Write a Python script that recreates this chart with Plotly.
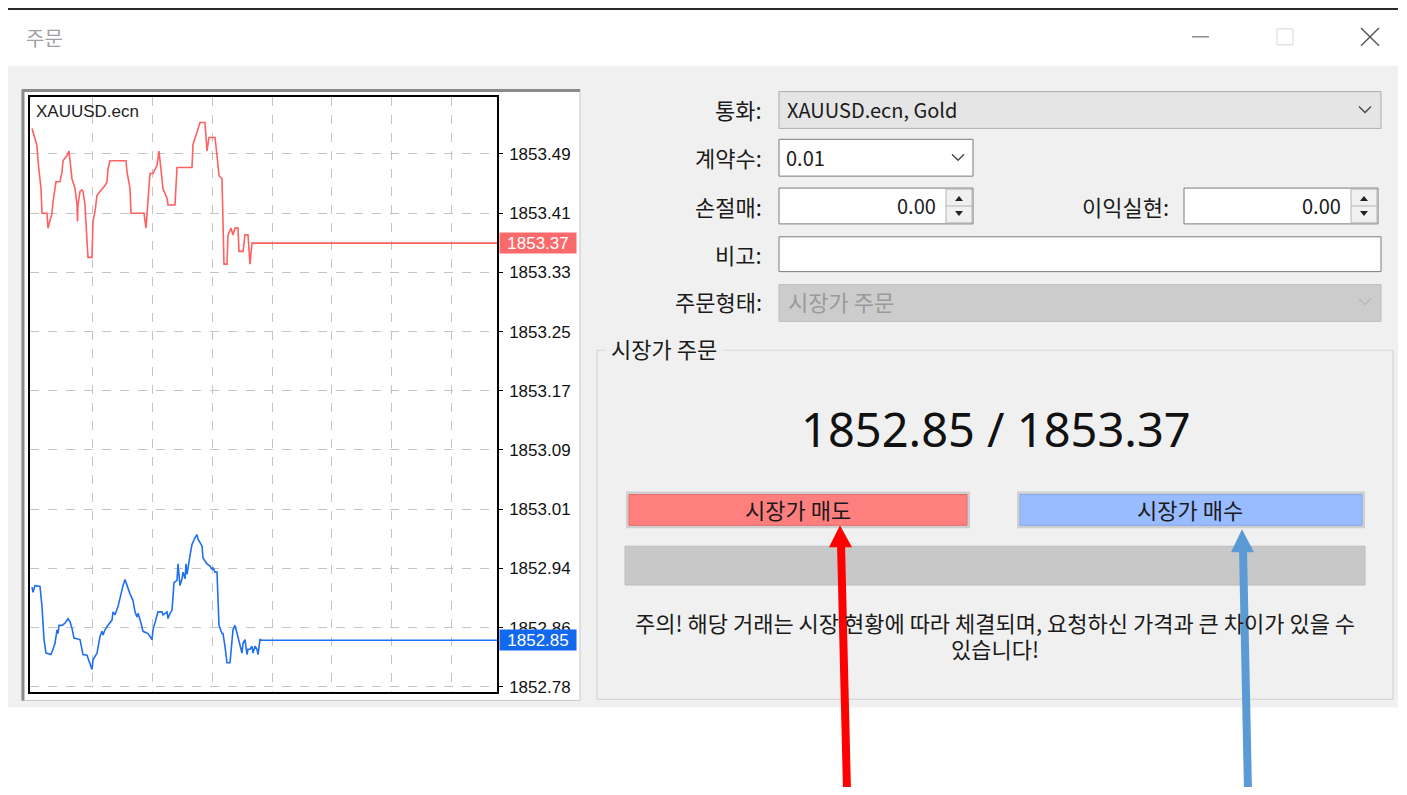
import plotly.graph_objects as go

# The page adds an 8px body margin on every side, so the figure is drawn smaller and offset.
OFF = 8
W, H = 1407 - OFF, 795 - 2 * OFF

# ---------------- data ----------------
symbol = "XAUUSD.ecn"
bid_text = "1852.85"
ask_text = "1853.37"

ask_x = [2, 5, 7, 8, 10, 11, 12, 17, 18, 22, 23, 25, 26, 30, 32, 33, 37, 39, 40, 42,
         45, 47, 47.5, 48, 50, 52, 53, 55, 57, 58, 62, 63, 65, 67, 70, 75, 77, 78, 80, 96,
         97, 100, 101, 114, 116, 117, 119, 120, 123, 127, 129, 131, 133, 137, 138, 145, 146, 147, 162, 163,
         167, 170, 175, 177, 179, 185, 187, 189, 192, 193, 194, 197, 198, 201, 203, 205, 208, 209, 213, 215,
         218, 220, 222, 467]
ask_price = [1853.524, 1853.510, 1853.501, 1853.481, 1853.461, 1853.444, 1853.411, 1853.411, 1853.391, 1853.411,
             1853.426, 1853.444, 1853.453, 1853.453, 1853.466, 1853.481, 1853.488, 1853.494, 1853.481, 1853.457,
             1853.444, 1853.422, 1853.400, 1853.422, 1853.440, 1853.442, 1853.440, 1853.422, 1853.374, 1853.352,
             1853.352, 1853.400, 1853.413, 1853.435, 1853.440, 1853.448, 1853.453, 1853.470, 1853.481, 1853.481,
             1853.466, 1853.444, 1853.411, 1853.411, 1853.391, 1853.409, 1853.444, 1853.464, 1853.464, 1853.475,
             1853.494, 1853.470, 1853.444, 1853.431, 1853.422, 1853.422, 1853.444, 1853.472, 1853.472, 1853.503,
             1853.519, 1853.532, 1853.532, 1853.494, 1853.512, 1853.512, 1853.488, 1853.461, 1853.457, 1853.396,
             1853.343, 1853.343, 1853.382, 1853.391, 1853.382, 1853.391, 1853.391, 1853.360, 1853.360, 1853.382,
             1853.382, 1853.343, 1853.371, 1853.371]

bid_x = [2, 3, 5, 10, 12, 13, 14, 16, 21, 23, 25, 27, 28, 29, 32, 35, 38, 40, 42, 44,
         48, 50, 52, 53, 57, 60, 62, 63, 67, 70, 72, 73, 75, 78, 82, 83, 85, 88, 90, 93,
         95, 97, 100, 103, 105, 107, 108, 111, 113, 118, 122, 123, 125, 127, 128, 132, 133, 137, 138, 140,
         142, 143, 144, 147, 148, 150, 152, 153, 155, 156, 157, 160, 162, 165, 167, 168, 172, 173, 177, 180,
         182, 183, 185, 187, 188, 189, 192, 193, 195, 197, 200, 202, 203, 205, 207, 208, 210, 212, 213, 215,
         217, 218, 220, 222, 223, 225, 227, 228, 230, 232, 467]
bid_price = [1852.912, 1852.905, 1852.914, 1852.913, 1852.886, 1852.855, 1852.842, 1852.824, 1852.822, 1852.829,
             1852.837, 1852.855, 1852.850, 1852.861, 1852.861, 1852.864, 1852.870, 1852.866, 1852.857, 1852.844,
             1852.842, 1852.842, 1852.829, 1852.822, 1852.821, 1852.811, 1852.802, 1852.815, 1852.824, 1852.846,
             1852.853, 1852.848, 1852.855, 1852.861, 1852.868, 1852.879, 1852.875, 1852.886, 1852.899, 1852.914,
             1852.922, 1852.914, 1852.903, 1852.894, 1852.879, 1852.872, 1852.877, 1852.864, 1852.853, 1852.850,
             1852.842, 1852.855, 1852.864, 1852.872, 1852.879, 1852.879, 1852.875, 1852.879, 1852.870, 1852.877,
             1852.881, 1852.899, 1852.918, 1852.921, 1852.943, 1852.914, 1852.923, 1852.932, 1852.923, 1852.943,
             1852.929, 1852.954, 1852.969, 1852.978, 1852.982, 1852.976, 1852.967, 1852.951, 1852.943, 1852.940,
             1852.936, 1852.938, 1852.932, 1852.932, 1852.903, 1852.861, 1852.850, 1852.850, 1852.833, 1852.811,
             1852.811, 1852.842, 1852.855, 1852.861, 1852.850, 1852.844, 1852.837, 1852.824, 1852.837, 1852.842,
             1852.822, 1852.829, 1852.829, 1852.833, 1852.824, 1852.833, 1852.829, 1852.822, 1852.842, 1852.841,
             1852.841]

price_tick_vals = [1853.490, 1853.411, 1853.332, 1853.253, 1853.174, 1853.095, 1853.016, 1852.937, 1852.858, 1852.779]
price_tick_text = ["1853.49", "1853.41", "1853.33", "1853.25", "1853.17", "1853.09", "1853.01", "1852.94", "1852.86", "1852.78"]
time_grid_vals = [62, 122, 182, 242, 301, 361, 421]

form_labels = ["통화:", "계약수:", "손절매:", "비고:", "주문형태:"]
symbol_text = "XAUUSD.ecn, Gold"
volume_text = "0.01"
sl_text = "0.00"
tp_label = "이익실현:"
tp_text = "0.00"
order_type_text = "시장가 주문"
group_title = "시장가 주문"
sell_label = "시장가 매도"
buy_label = "시장가 매수"
warning_lines = ["주의! 해당 거래는 시장 현황에 따라 체결되며, 요청하신 가격과 큰 차이가 있을 수", "있습니다!"]
window_title = "주문"

KR = "Noto Sans CJK KR"
LAT = "Liberation Sans"
KS = 22  # Korean UI font size


def X(px):
    return (px - OFF) / W


def Y(py):
    return 1 - (py - OFF) / H


shapes = []
annotations = []


def rect(x0, y0, x1, y1, fill, line="rgba(0,0,0,0)", lw=1, layer="below"):
    shapes.append(dict(type="rect", xref="paper", yref="paper", x0=X(x0), x1=X(x1), y0=Y(y1), y1=Y(y0),
                       fillcolor=fill, line=dict(color=line, width=lw), layer=layer))


def seg(x0, y0, x1, y1, color, lw=1, layer="above"):
    shapes.append(dict(type="line", xref="paper", yref="paper", x0=X(x0), x1=X(x1), y0=Y(y0), y1=Y(y1),
                       line=dict(color=color, width=lw), layer=layer))


def poly(pts, fill, layer="above"):
    d = "M " + " L ".join(f"{X(a):.5f},{Y(b):.5f}" for a, b in pts) + " Z"
    shapes.append(dict(type="path", xref="paper", yref="paper", path=d, fillcolor=fill,
                       line=dict(color=fill, width=0), layer=layer))


def chevron(cx, cy, color):
    d = f"M {X(cx-6):.5f},{Y(cy-3):.5f} L {X(cx):.5f},{Y(cy+3):.5f} L {X(cx+6):.5f},{Y(cy-3):.5f}"
    shapes.append(dict(type="path", xref="paper", yref="paper", path=d, line=dict(color=color, width=1.3),
                       layer="above"))


def text(px, py, s, size=KS, color="#1a1a1a", anchor="left", family=KR, bg=None):
    a = dict(xref="paper", yref="paper", x=X(px), y=Y(py), text=s, showarrow=False, xanchor=anchor,
             yanchor="middle", font=dict(family=family, size=size, color=color), borderpad=0)
    if bg:
        a["bgcolor"] = bg
    annotations.append(a)


# ---------------- window frame ----------------
seg(8, 9, 1398, 9, "#2a2a2a", 2, layer="below")
rect(8, 10, 1398, 66, "#ffffff")
rect(8, 66, 1398, 711, "#f0f0f0")
text(25, 38, window_title, size=20, color="#a0a0a0")
seg(1192, 37, 1209, 37, "#555555", 1)
rect(1277, 29, 1293, 45, "rgba(0,0,0,0)", "#d8d8d8", 1, layer="above")
seg(1361, 28, 1379, 46, "#555555", 1.4)
seg(1361, 46, 1379, 28, "#555555", 1.4)

# chart panel
rect(22, 90, 580, 704, "#ffffff", "#c8c8c8", 1)
seg(22, 91, 580, 91, "#8a8a8a", 3, layer="below")
seg(23, 90, 23, 704, "#8a8a8a", 3, layer="below")

# ---------------- form ----------------
label_y = [110, 158, 207, 255, 303]
for lab, ly in zip(form_labels, label_y):
    text(763, ly, lab, anchor="right")

rect(779, 92, 1381, 129, "#e5e5e5", "#adadad", 1)
text(786, 110, symbol_text, size=20)
chevron(1365, 110, "#444444")

rect(779, 140, 973, 177, "#ffffff", "#7a7a7a", 1)
text(785, 158, volume_text, size=20)
chevron(958, 158, "#444444")


def spinbox(x0, x1, val):
    rect(x0, 189, x1, 225, "#ffffff", "#7a7a7a", 1)
    rect(x1 - 27, 190, x1 - 1, 224, "#f0f0f0", "#b4b4b4", 1, layer="above")
    seg(x1 - 27, 207, x1 - 1, 207, "#b4b4b4", 1)
    cx = x1 - 14
    poly([(cx - 4, 202), (cx + 4, 202), (cx, 197)], "#222222")
    poly([(cx - 4, 212), (cx + 4, 212), (cx, 217)], "#222222")
    text(x1 - 36, 207, val, size=20, anchor="right")


spinbox(779, 973, sl_text)
text(1170, 207, tp_label, anchor="right")
spinbox(1184, 1378, tp_text)

rect(779, 238, 1381, 273, "#ffffff", "#7a7a7a", 1)

rect(779, 286, 1381, 323, "#cccccc", "#bfbfbf", 1)
text(787, 303, order_type_text, color="#9a9a9a")
chevron(1365, 303, "#b8b8b8")

# group box
gb = [(605, 352), (597, 352), (597, 703), (1393, 703), (1393, 352), (724, 352)]
d = "M " + " L ".join(f"{X(a):.5f},{Y(b):.5f}" for a, b in gb)
shapes.append(dict(type="path", xref="paper", yref="paper", path=d, line=dict(color="#d6d6d6", width=1.2),
                   layer="below"))
text(610, 350, group_title)

text(996, 431, f"{bid_text} / {ask_text}", size=47, color="#111111", anchor="center", family="Noto Sans")

# buttons
rect(626, 494, 970, 531, "#cfcfcf")
rect(629, 497, 967, 528, "#ff7f7f", "#e86c6c", 1)
text(798, 512, sell_label, anchor="center")
rect(1017, 494, 1365, 531, "#cfcfcf")
rect(1020, 497, 1362, 528, "#99bbff", "#86a8ee", 1)
text(1190, 512, buy_label, anchor="center")

rect(625, 549, 1365, 588, "#c8c8c8", "#bdbdbd", 1)

text(995, 625, warning_lines[0], anchor="center")
text(995, 651, warning_lines[1], anchor="center")

# arrows
seg(847, 795, 841, 546, "#ff0000", 8)
poly([(840, 528), (829, 550), (852, 550)], "#ff0000")
seg(1248, 795, 1243, 551, "#5b9bd5", 8)
poly([(1242, 532), (1231, 555), (1254, 555)], "#5b9bd5")

# ---------------- chart ----------------
fig = go.Figure()
fig.add_trace(go.Scatter(x=ask_x, y=ask_price, mode="lines", line=dict(color="#ff6060", width=1.6),
                         hoverinfo="skip", showlegend=False))
fig.add_trace(go.Scatter(x=bid_x, y=bid_price, mode="lines", line=dict(color="#1f6fef", width=1.6),
                         hoverinfo="skip", showlegend=False))

text(35, 112, symbol, size=17, color="#222222", family=LAT)

annotations.append(dict(xref="paper", yref="y", x=X(499), y=ask_price[-1], text=ask_text, showarrow=False,
                        xanchor="left", yanchor="middle", bgcolor="#fa6a6a", width=76, height=20, borderpad=0,
                        font=dict(family=LAT, size=17, color="#ffffff")))
annotations.append(dict(xref="paper", yref="y", x=X(499), y=bid_price[-1], text=bid_text, showarrow=False,
                        xanchor="left", yanchor="middle", bgcolor="#1268ee", width=76, height=20, borderpad=0,
                        font=dict(family=LAT, size=17, color="#ffffff")))

fig.update_layout(
    width=W, height=H, autosize=False,
    margin=dict(l=0, r=0, t=0, b=0),
    paper_bgcolor="#ffffff", plot_bgcolor="#ffffff",
    showlegend=False,
    shapes=shapes, annotations=annotations,
    xaxis=dict(domain=[X(30), X(497)], range=[0, 467], showticklabels=False, ticks="",
               tickvals=time_grid_vals, showgrid=True, gridcolor="#c4c4c4", griddash="dash", gridwidth=1,
               showline=True, linecolor="#000000", linewidth=1.5, mirror=True, zeroline=False,
               fixedrange=True),
    yaxis=dict(domain=[Y(696), Y(97.5)], range=[1852.7714, 1853.566], side="right",
               tickvals=price_tick_vals, ticktext=price_tick_text, ticks="outside", ticklen=4,
               tickcolor="#000000", ticklabelstandoff=3,
               tickfont=dict(family=LAT, size=17, color="#111111"),
               showgrid=True, gridcolor="#c4c4c4", griddash="dash", gridwidth=1,
               showline=True, linecolor="#000000", linewidth=1.5, mirror=True, zeroline=False,
               fixedrange=True),
)

fig.write_html("out.html")
